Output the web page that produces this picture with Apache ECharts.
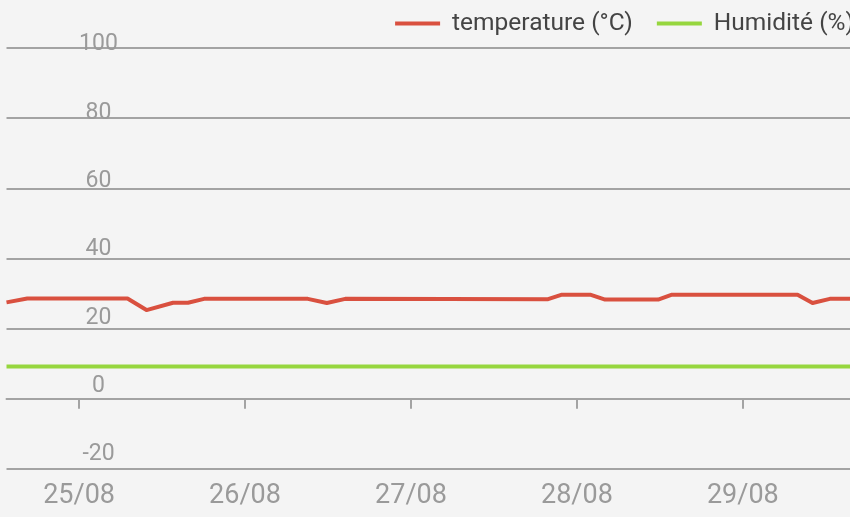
<!DOCTYPE html>
<html>
<head>
<meta charset="utf-8">
<script src="https://cdn.jsdelivr.net/npm/echarts@6/dist/echarts.min.js"></script>
<style>
  html, body { margin: 0; padding: 0; background: #f4f4f4; }
  #chart { width: 850px; height: 517px; }
</style>
</head>
<body>
<div id="chart"></div>
<script>
// readings (local time)
var tempTimes = [
  '2021-08-24 13:30', '2021-08-24 16:30', '2021-08-25 07:00', '2021-08-25 09:45',
  '2021-08-25 13:35', '2021-08-25 15:45', '2021-08-25 18:05', '2021-08-26 09:05',
  '2021-08-26 11:50', '2021-08-26 14:30', '2021-08-27 19:50', '2021-08-27 21:50',
  '2021-08-28 01:55', '2021-08-28 04:05', '2021-08-28 11:45', '2021-08-28 13:45',
  '2021-08-29 07:55', '2021-08-29 10:05', '2021-08-29 12:35', '2021-08-29 15:30'
];
var tempValues = [27.5, 28.6, 28.6, 25.3, 27.4, 27.4, 28.5, 28.5, 27.3, 28.5,
                  28.4, 29.7, 29.7, 28.3, 28.3, 29.7, 29.7, 27.3, 28.5, 28.5];
var humidityValues = [9.2, 9.2, 9.2, 9.2, 9.2, 9.2, 9.2, 9.2, 9.2, 9.2,
                      9.2, 9.2, 9.2, 9.2, 9.2, 9.2, 9.2, 9.2, 9.2, 9.2];
var dayTicks = ['2021-08-25 00:00', '2021-08-26 00:00', '2021-08-27 00:00',
                '2021-08-28 00:00', '2021-08-29 00:00'];
var yTickLabels = [-20, 0, 20, 40, 60, 80, 100];
var seriesNames = ['temperature (°C)', 'Humidité (%)'];

var xMin = tempTimes[0];
var xMax = tempTimes[tempTimes.length - 1];

function toTime(s) {
  return new Date(s.replace(' ', 'T')).getTime();
}
function pairs(times, vals) {
  var out = [];
  for (var i = 0; i < times.length; i++) out.push([times[i], vals[i]]);
  return out;
}

var ec = echarts.init(document.getElementById('chart'));
var gridColor = '#a3a3a3';
var option = {
  backgroundColor: '#f4f4f4',
  animation: false,
  textStyle: { fontFamily: 'Roboto' },
  grid: { left: 6.5, right: 0, top: 48, bottom: 48, containLabel: false },
  legend: {
    data: seriesNames,
    right: -9,
    top: 6,
    icon: 'rect',
    itemWidth: 45,
    itemHeight: 4,
    itemGap: 24,
    textStyle: { fontSize: 24.5, color: '#444', padding: [0, 0, 0, 7] }
  },
  xAxis: [{
    // labels at the bottom
    type: 'time',
    min: xMin,
    max: xMax,
    position: 'bottom',
    minInterval: 86400000,
    maxInterval: 86400000,
    axisLine: { show: false, onZero: false },
    axisTick: { show: false },
    splitLine: { show: false },
    axisLabel: {
      formatter: '{dd}/{MM}',
      fontSize: 27,
      color: '#9a9a9a',
      margin: 14,
      showMinLabel: false,
      showMaxLabel: false
    }
  }, {
    // tick marks sitting on the zero line
    type: 'time',
    min: xMin,
    max: xMax,
    position: 'bottom',
    axisLine: { show: true, onZero: true, onZeroAxisIndex: 0, lineStyle: { color: gridColor, width: 2 } },
    axisTick: {
      show: true,
      length: 10,
      customValues: dayTicks.map(toTime),
      lineStyle: { color: gridColor, width: 2 }
    },
    axisLabel: { show: false },
    splitLine: { show: false }
  }],
  yAxis: [{
    type: 'value',
    min: -20,
    max: 100,
    interval: 20,
    position: 'left',
    axisLine: { show: false },
    axisTick: { show: false },
    axisLabel: { show: false },
    splitLine: { show: true, lineStyle: { color: gridColor, width: 2 } }
  }, {
    // label-only axis, labels drift slightly from the grid lines like the original
    type: 'value',
    min: -23.2,
    max: 100,
    position: 'left',
    axisLine: { show: false },
    axisTick: { show: false },
    splitLine: { show: false },
    axisLabel: {
      inside: true,
      customValues: yTickLabels,
      margin: 92,
      align: 'center',
      verticalAlign: 'bottom',
      lineHeight: 7,
      fontSize: 23,
      color: '#9a9a9a'
    }
  }],
  series: [{
    name: seriesNames[0],
    type: 'line',
    xAxisIndex: 0,
    yAxisIndex: 0,
    data: pairs(tempTimes, tempValues),
    showSymbol: false,
    color: '#d9503f',
    lineStyle: { width: 4, color: '#d9503f', join: 'round' }
  }, {
    name: seriesNames[1],
    type: 'line',
    xAxisIndex: 0,
    yAxisIndex: 0,
    data: pairs(tempTimes, humidityValues),
    showSymbol: false,
    color: '#96d63e',
    lineStyle: { width: 4, color: '#96d63e' }
  }]
};
ec.setOption(option);
</script>
</body>
</html>
